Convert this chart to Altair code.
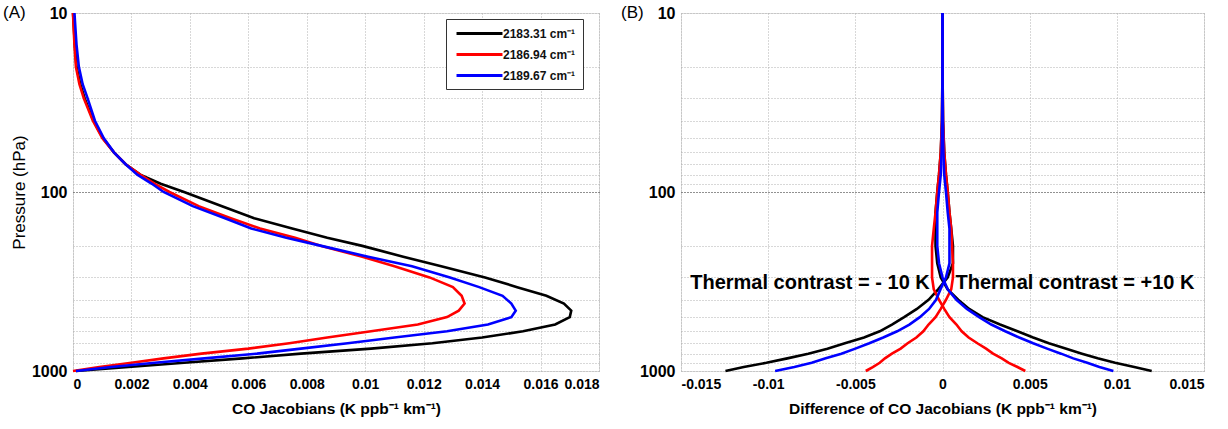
import altair as alt
import pandas as pd

# ---------------- data ----------------
SERIES = ["2183.31 cm⁻¹", "2186.94 cm⁻¹", "2189.67 cm⁻¹"]
COLORS = ["#000000", "#ff0000", "#0000ff"]

P_A = [10, 12, 15, 20, 25, 30, 40, 50, 60, 70, 80, 90, 100, 120, 140, 160, 180, 200,
       230, 260, 300, 340, 380, 420, 460, 500, 550, 600, 650, 700, 750, 800, 850, 900, 950, 1000]
JAC_2183 = [0.0, 0.00003, 0.00006, 0.00012, 0.00025, 0.0004, 0.0007, 0.00102, 0.0014, 0.0018,
            0.0023, 0.0030, 0.0038, 0.0051, 0.0062, 0.0075, 0.0087, 0.0099, 0.0113, 0.0126,
            0.0141, 0.0152, 0.0162, 0.0168, 0.01705, 0.0170, 0.0165, 0.0154, 0.0140, 0.0123,
            0.0102, 0.0078, 0.0058, 0.0038, 0.0019, 0.0001]
JAC_2186 = [0.0, 0.00002, 0.00005, 0.0001, 0.00022, 0.00037, 0.00068, 0.0010, 0.0014, 0.0018,
            0.0023, 0.0028, 0.0033, 0.0043, 0.0054, 0.0064, 0.0076, 0.0085, 0.0099, 0.0110,
            0.0122, 0.0130, 0.0133, 0.0134, 0.0132, 0.0128, 0.0118, 0.0102, 0.0087, 0.0074,
            0.0060, 0.0044, 0.0031, 0.0020, 0.0009, 0.0]
JAC_2189 = [0.00005, 0.00008, 0.00012, 0.0002, 0.00033, 0.0005, 0.00075, 0.00105, 0.0014, 0.0018,
            0.0022, 0.0027, 0.0031, 0.0041, 0.0052, 0.0061, 0.0073, 0.0085, 0.0101, 0.0116,
            0.0129, 0.0139, 0.0147, 0.0150, 0.01515, 0.0150, 0.0142, 0.0128, 0.0110, 0.0094,
            0.0078, 0.0063, 0.0045, 0.0028, 0.0013, 0.0001]

P_B = [10, 20, 40, 60, 80, 100, 130, 160, 200, 250, 300, 350, 400, 450, 500, 550, 600,
       650, 700, 750, 800, 850, 900, 950, 1000]
DIFF_2183_M10 = [0, 0, 0.00003, 0.0001, 0.0002, 0.0003, 0.0004, 0.0005, 0.0006, 0.0006, 0.0003,
                 -0.00025, -0.0008, -0.00147, -0.0022, -0.0029, -0.0036, -0.0045, -0.0056,
                 -0.0066, -0.0077, -0.0089, -0.0101, -0.0114, -0.01245]
DIFF_2183_P10 = [0, 0, -0.00003, -0.0001, -0.0002, -0.0003, -0.0004, -0.0004, -0.0004, -0.0003,
                 -0.0001, 0.0003, 0.0009, 0.00153, 0.0023, 0.0033, 0.0043, 0.0052, 0.0061,
                 0.0071, 0.0080, 0.0089, 0.0099, 0.0110, 0.0120]
DIFF_2186_M10 = [0, 0, 0.00003, 0.0001, 0.0002, 0.0003, 0.0004, 0.0005, 0.00055, 0.0006, 0.0006,
                 0.0005, 0.0002, -0.0001, -0.0004, -0.0008, -0.0011, -0.0015, -0.0020, -0.0024,
                 -0.0029, -0.0033, -0.0036, -0.0040, -0.0044]
DIFF_2186_P10 = [0, 0, -0.00003, -0.0001, -0.0002, -0.0003, -0.0004, -0.0005, -0.0006, -0.0006,
                 -0.0006, -0.0005, -0.0002, 0.0001, 0.0004, 0.0008, 0.0011, 0.0015, 0.0020,
                 0.0025, 0.0029, 0.0034, 0.0038, 0.0043, 0.00475]
DIFF_2189_M10 = [0, 0, 0.00002, 0.00005, 0.0001, 0.0002, 0.0003, 0.0004, 0.0004, 0.0004, 0.0002,
                 -0.00012, -0.00037, -0.00077, -0.0013, -0.0019, -0.0026, -0.0034, -0.0042,
                 -0.0050, -0.0058, -0.0067, -0.0075, -0.0085, -0.0096]
DIFF_2189_P10 = [0, 0, -0.00002, -0.00005, -0.0001, -0.0002, -0.0003, -0.0003, -0.0003, -0.0002,
                 0.0, 0.0003, 0.0008, 0.0014, 0.0021, 0.0028, 0.0036, 0.0044, 0.0052, 0.0060,
                 0.0068, 0.0075, 0.0083, 0.0090, 0.0098]

XA_TICKS = [0, 0.002, 0.004, 0.006, 0.008, 0.01, 0.012, 0.014, 0.016, 0.018]
XB_TICKS = [-0.015, -0.01, -0.005, 0, 0.005, 0.01, 0.015]
Y_TICKS = [10, 20, 30, 40, 50, 60, 70, 80, 90, 100, 200, 300, 400, 500, 600, 700, 800, 900, 1000]
Y_LABELS = [10, 100, 1000]

PANEL_LABELS = ["(A)", "(B)"]
ANNOT_TEXT = ["Thermal contrast = - 10 K", "Thermal contrast = +10 K"]
ANNOT_X = [-0.0076, 0.0076]
ANNOT_P = [322, 322]

FONT = "Liberation Sans"

# ---------------- tables ----------------
rows_a = []
for name, vals in zip(SERIES, [JAC_2183, JAC_2186, JAC_2189]):
    for i, (p, v) in enumerate(zip(P_A, vals)):
        rows_a.append({"p": p, "v": v, "series": name, "idx": i})
df_a = pd.DataFrame(rows_a)

rows_b = []
for name, neg, pos in zip(SERIES, [DIFF_2183_M10, DIFF_2186_M10, DIFF_2189_M10],
                          [DIFF_2183_P10, DIFF_2186_P10, DIFF_2189_P10]):
    for tag, vals in (("-10K", neg), ("+10K", pos)):
        for i, (p, v) in enumerate(zip(P_B, vals)):
            rows_b.append({"p": p, "v": v, "series": name, "contrast": tag, "idx": i})
df_b = pd.DataFrame(rows_b)

df_annot = pd.DataFrame({"v": ANNOT_X, "p": ANNOT_P, "t": ANNOT_TEXT})

label_expr_y = " || ".join(f"datum.value == {v}" for v in Y_LABELS)
grid_color = {"condition": {"test": "datum.value === 100", "value": "#222222"}, "value": "#b0b0b0"}

y_scale = alt.Scale(type="log", domain=[10, 1000], reverse=True, nice=False)
color_scale = alt.Scale(domain=SERIES, range=COLORS)


def y_axis(show_title):
    kw = dict(values=Y_TICKS, labelExpr=f"({label_expr_y}) ? '' + datum.value : ''",
              grid=True, gridDash=[1, 2], gridColor=grid_color, ticks=False, domain=False,
              labelFontSize=16, labelFontWeight="bold", labelPadding=6, labelFont=FONT,
              titleFont=FONT)
    if show_title:
        kw.update(title="Pressure (hPa)", titleFontSize=17, titleFontWeight="normal",
                  titlePadding=3)
    else:
        kw.update(title=None)
    return alt.Axis(**kw)


def x_axis(values, title):
    return alt.Axis(values=values, labelExpr="'' + datum.value", title=title,
                    grid=True, gridDash=[1, 2], gridColor="#b0b0b0", ticks=False, domain=False,
                    labelFontSize=14, labelFontWeight="bold", labelPadding=6, labelFont=FONT,
                    titleFontSize=15.5, titleFontWeight="bold", titlePadding=10, titleFont=FONT,
                    labelOverlap=False)


lines_a = alt.Chart(df_a).mark_line(strokeWidth=2.6).encode(
    x=alt.X("v:Q", scale=alt.Scale(domain=[0, 0.018], nice=False),
            axis=x_axis(XA_TICKS, "CO Jacobians (K ppb⁻¹ km⁻¹)")),
    y=alt.Y("p:Q", scale=y_scale, axis=y_axis(True)),
    color=alt.Color("series:N", scale=color_scale,
                    legend=alt.Legend(title=None, orient="none", legendX=373, legendY=6,
                                      symbolType="M-4,0H4", symbolSize=132,
                                      symbolStrokeWidth=3, symbolOffset=19,
                                      labelFontSize=12, labelFontWeight="bold",
                                      labelFont=FONT, labelOffset=16, labelColor="#111111",
                                      strokeColor="#333333", fillColor="white",
                                      padding=7, rowPadding=7)),
    order="idx:Q",
)

label_a = alt.Chart(pd.DataFrame({"t": [PANEL_LABELS[0]]})).mark_text(
    align="left", baseline="middle", fontSize=17, font=FONT
).encode(text="t:N", x=alt.value(-70), y=alt.value(0))

panel_a = alt.layer(lines_a, label_a).properties(width=526, height=358)

lines_b = alt.Chart(df_b).mark_line(strokeWidth=2.6).encode(
    x=alt.X("v:Q", scale=alt.Scale(domain=[-0.015, 0.015], nice=False),
            axis=x_axis(XB_TICKS, "Difference of CO Jacobians (K ppb⁻¹ km⁻¹)")),
    y=alt.Y("p:Q", scale=y_scale, axis=y_axis(False)),
    color=alt.Color("series:N", scale=color_scale, legend=None),
    detail="contrast:N",
    order="idx:Q",
)

annot_b = alt.Chart(df_annot).mark_text(
    fontSize=20, fontWeight="bold", font=FONT, baseline="middle"
).encode(x="v:Q", y="p:Q", text="t:N")

label_b = alt.Chart(pd.DataFrame({"t": [PANEL_LABELS[1]]})).mark_text(
    align="left", baseline="middle", fontSize=17, font=FONT
).encode(text="t:N", x=alt.value(-60), y=alt.value(0))

panel_b = alt.layer(lines_b, annot_b, label_b).properties(width=523, height=358)

chart = alt.hconcat(panel_a, panel_b, spacing=20).resolve_scale(
    color="independent", x="independent", y="independent"
).properties(
    padding={"left": 2, "top": 3, "right": 0, "bottom": 0},
    background="white",
).configure_view(stroke="black", strokeWidth=1).configure(font=FONT)

chart.save("out.html", embed_options={"renderer": "svg", "actions": False})
